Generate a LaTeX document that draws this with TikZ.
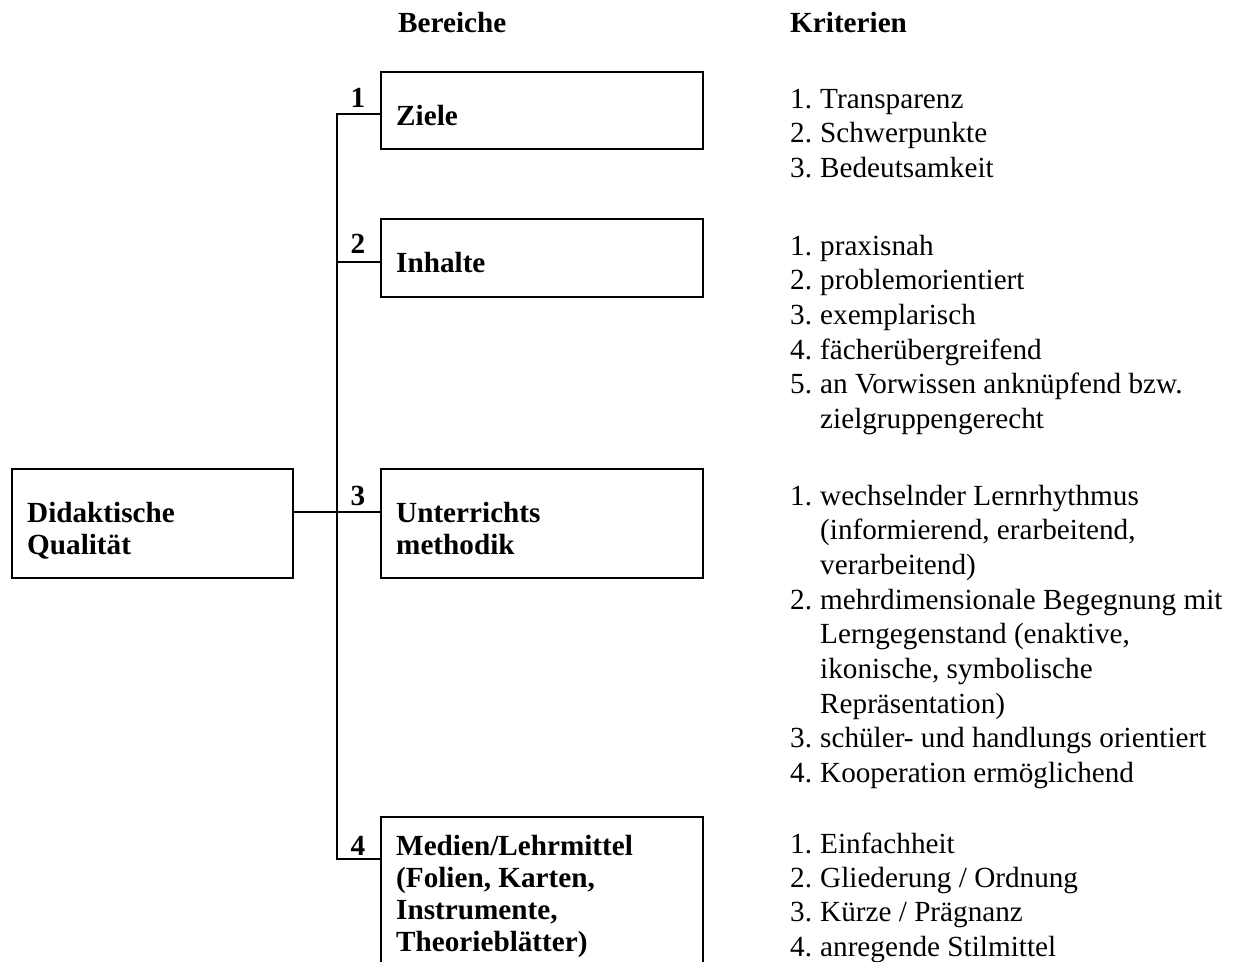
\documentclass[tikz,border=0pt]{standalone}
\usepackage{fontspec}
\setmainfont{Liberation Serif}
\newcommand\myfs{\fontsize{29.2}{34.7}\selectfont}
\newcommand\boxfs{\fontsize{29.2}{32.3}\selectfont}
\tikzset{
  box/.style={draw, line width=2.5pt, rectangle, inner sep=0pt, outer sep=0pt, anchor=north west, minimum width=322pt},
  lbl/.style={inner sep=0pt, anchor=base west, font=\boxfs\bfseries},
  num/.style={inner sep=0pt, anchor=base, font=\myfs\bfseries},
  crit/.style={inner sep=0pt, anchor=base west, font=\myfs},
  conn/.style={line width=2.5pt}
}
\begin{document}
\begin{tikzpicture}[x=1pt,y=-1pt]
\useasboundingbox (0,0) rectangle (1234,961);
% headings
\node[lbl] (hb) at (398,32) {Bereiche};
\node[lbl] (hk) at (790,32) {Kriterien};
% main box
\node[box, minimum width=281pt, minimum height=109pt] (q) at (12,469) {};
\node[lbl] (qt) at (27,522) {\begin{tabular}[t]{@{}l@{}}Didaktische\\Qualität\end{tabular}};
% area boxes
\node[box, minimum height=77pt] (b1) at (381,72) {};
\node[box, minimum height=78pt] (b2) at (381,219) {};
\node[box, minimum height=109pt] (b3) at (381,469) {};
\node[box, minimum height=200pt] (b4) at (381,817) {};
\node[lbl] (t1) at (396,125) {Ziele};
\node[lbl] (t2) at (396,272) {Inhalte};
\node[lbl] (t3) at (396,522) {\begin{tabular}[t]{@{}l@{}}Unterrichts\\methodik\end{tabular}};
\node[lbl] (t4) at (396,855) {\begin{tabular}[t]{@{}l@{}}Medien/Lehrmittel\\(Folien, Karten,\\Instrumente,\\Theorieblätter)\end{tabular}};
% numbers
\node[num] (n1) at (358,107) {1};
\node[num] (n2) at (358,253) {2};
\node[num] (n3) at (358,505) {3};
\node[num] (n4) at (358,855) {4};
% connectors
\coordinate (j1) at (337,114);
\coordinate (j2) at (337,262);
\coordinate (j3) at (337,512);
\coordinate (j4) at (337,859);
\draw[conn] (j1 -| b1.west) -- (j1) -- (j4) -- (j4 -| b4.west);
\draw[conn] (j2) -- (j2 -| b2.west);
\draw[conn] (j3 -| q.east) -- (j3 -| b3.west);
% criteria
\node[crit] (c1) at (790,108) {\begin{tabular}[t]{@{}p{30pt}@{}l@{}}
1. & Transparenz\\
2. & Schwerpunkte\\
3. & Bedeutsamkeit
\end{tabular}};
\node[crit] (c2) at (790,255) {\begin{tabular}[t]{@{}p{30pt}@{}l@{}}
1. & praxisnah\\
2. & problemorientiert\\
3. & exemplarisch\\
4. & fächerübergreifend\\
5. & an Vorwissen anknüpfend bzw.\\
 & zielgruppengerecht
\end{tabular}};
\node[crit] (c3) at (790,505) {\begin{tabular}[t]{@{}p{30pt}@{}l@{}}
1. & wechselnder Lernrhythmus\\
 & (informierend, erarbeitend,\\
 & verarbeitend)\\
2. & mehrdimensionale Begegnung mit\\
 & Lerngegenstand (enaktive,\\
 & ikonische, symbolische\\
 & Repräsentation)\\
3. & schüler- und handlungs orientiert\\
4. & Kooperation ermöglichend
\end{tabular}};
\node[crit, font=\fontsize{29.2}{34.4}\selectfont] (c4) at (790,853) {\begin{tabular}[t]{@{}p{30pt}@{}l@{}}
1. & Einfachheit\\
2. & Gliederung / Ordnung\\
3. & Kürze / Prägnanz\\
4. & anregende Stilmittel
\end{tabular}};
\end{tikzpicture}
\end{document}
